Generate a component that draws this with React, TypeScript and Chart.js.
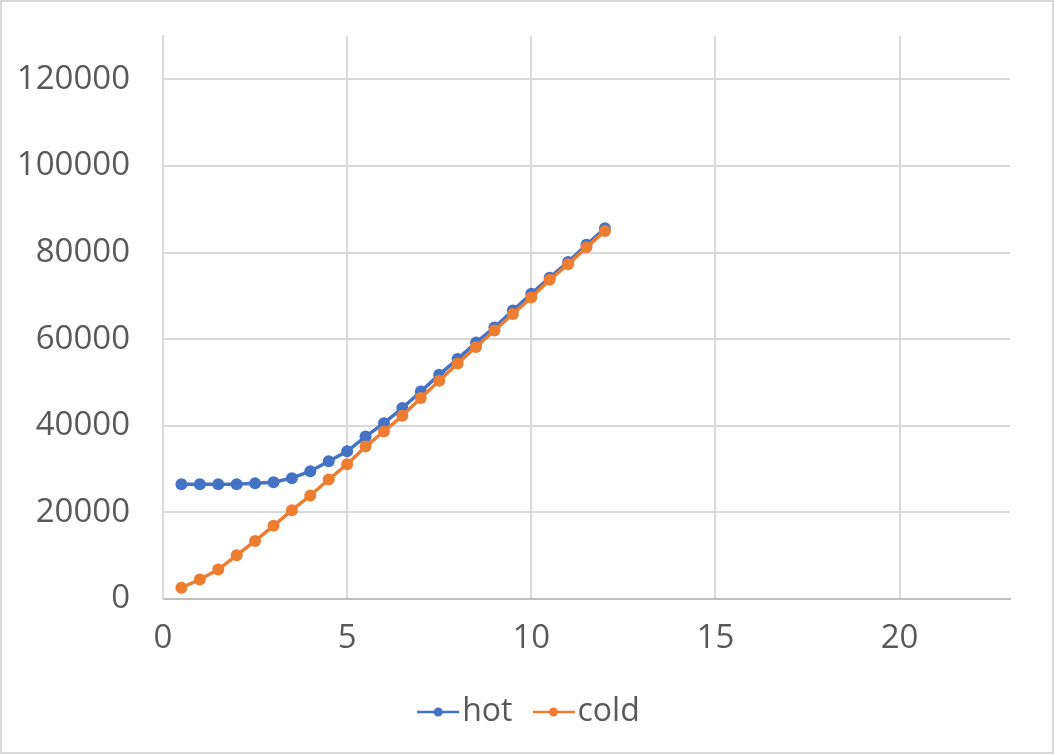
import { useEffect, useRef } from 'react'
import { Chart, ChartConfiguration, registerables } from 'chart.js'

Chart.register(...registerables)

// x positions shared by both series
const xValues = [0.5, 1, 1.5, 2, 2.5, 3, 3.5, 4, 4.5, 5, 5.5, 6, 6.5, 7, 7.5, 8, 8.5, 9, 9.5, 10, 10.5, 11, 11.5, 12]
const hotValues = [
  26500, 26500, 26500, 26500, 26700, 26950, 27900, 29500, 31800, 34100, 37500, 40600,
  44100, 47900, 51800, 55400, 59200, 62700, 66600, 70500, 74200, 77800, 81800, 85600,
]
const coldValues = [
  2600, 4500, 6800, 10100, 13400, 16900, 20500, 23900, 27600, 31100, 35200, 38700,
  42300, 46400, 50400, 54400, 58200, 62000, 65800, 69600, 73700, 77300, 81200, 85000,
]
const seriesNames = ['hot', 'cold']
const seriesColors = ['#4472C4', '#ED7D31']

// axis ticks
const xTickValues = [0, 5, 10, 15, 20]
const yTickValues = [0, 20000, 40000, 60000, 80000, 100000, 120000]

const FONT = '"Open Sans", "Liberation Sans", sans-serif'
const TEXT = '#595959'
const GRID = '#d9d9d9'

// legend marker: short line with a dot in the middle
function legendMarker(color: string) {
  const c = document.createElement('canvas')
  c.width = 42
  c.height = 12
  const g = c.getContext('2d')!
  g.strokeStyle = color
  g.lineWidth = 2.5
  g.beginPath()
  g.moveTo(0, 6)
  g.lineTo(42, 6)
  g.stroke()
  g.fillStyle = color
  g.beginPath()
  g.arc(21, 6, 4.5, 0, Math.PI * 2)
  g.fill()
  return c
}

// nudge the legend to where Excel puts it
const legendShift = {
  id: 'legendShift',
  afterLayout(chart: any) {
    const lg = chart.legend
    if (!lg) return
    lg.left += 30
    lg.right += 30
    lg.top -= 6
    lg.bottom -= 6
  },
}

export default function App() {
  const chartRef = useRef<HTMLCanvasElement>(null)
  const chartInstance = useRef<Chart | null>(null)

  useEffect(() => {
    document.body.style.margin = '0'
    if (!chartRef.current) return
    if (chartInstance.current) chartInstance.current.destroy()

    const makeSet = (i: number, values: number[]) => ({
      label: seriesNames[i],
      data: xValues.map((x, k) => ({ x, y: values[k] })),
      borderColor: seriesColors[i],
      backgroundColor: seriesColors[i],
      borderWidth: 3.5,
      pointRadius: 6,
      pointBorderWidth: 0,
      showLine: true,
    })

    // cold first so it's drawn on top; legend reversed to read hot, cold
    const config: ChartConfiguration = {
      type: 'scatter',
      data: {
        datasets: [makeSet(1, coldValues), makeSet(0, hotValues)],
      },
      options: {
        responsive: true,
        maintainAspectRatio: false,
        animation: false,
        layout: { padding: { top: 36, right: 44, left: 0, bottom: 10 } },
        scales: {
          x: {
            type: 'linear',
            min: 0,
            max: 23,
            afterBuildTicks: (scale: any) => {
              scale.ticks = xTickValues.map(v => ({ value: v }))
            },
            afterFit: (scale: any) => {
              scale.height = 70
            },
            ticks: {
              padding: 20,
              color: TEXT,
              font: { family: FONT, size: 33 },
              callback: (v: any) => String(v),
            },
            grid: { color: GRID, lineWidth: 2, drawTicks: false },
            border: { color: '#bfbfbf', width: 2 },
          },
          y: {
            min: 0,
            max: 130000,
            afterBuildTicks: (scale: any) => {
              scale.ticks = yTickValues.map(v => ({ value: v }))
            },
            afterFit: (scale: any) => {
              scale.width = 163
              // top label is not at the edge, so don't reserve room for it
              scale.paddingTop = 0
              scale.paddingBottom = 0
            },
            ticks: {
              padding: 33,
              color: TEXT,
              font: { family: FONT, size: 33 },
              callback: (v: any) => String(v),
            },
            grid: { color: GRID, lineWidth: 2, drawTicks: false },
            border: { color: GRID, width: 2 },
          },
        },
        plugins: {
          tooltip: { enabled: false },
          legend: {
            display: true,
            position: 'bottom',
            reverse: true,
            labels: {
              usePointStyle: true,
              pointStyleWidth: 16,
              padding: 33,
              color: TEXT,
              font: { family: FONT, size: 32 },
              generateLabels: (chart: Chart) => {
                const items = Chart.defaults.plugins.legend.labels.generateLabels(chart)
                return items.map((it: any) => ({
                  ...it,
                  pointStyle: legendMarker(it.strokeStyle),
                }))
              },
            },
          },
        },
      },
      plugins: [legendShift],
    } as any

    chartInstance.current = new Chart(chartRef.current, config)

    return () => {
      if (chartInstance.current) {
        chartInstance.current.destroy()
        chartInstance.current = null
      }
    }
  }, [])

  return (
    <div
      style={{
        position: 'fixed',
        left: 0,
        top: 0,
        width: 1054,
        height: 754,
        boxSizing: 'border-box',
        border: '2px solid #d9d9d9',
        background: '#fff',
      }}
    >
      <div style={{ position: 'absolute', left: -2, top: -2, width: 1054, height: 754 }}>
        <canvas ref={chartRef} />
      </div>
    </div>
  )
}
